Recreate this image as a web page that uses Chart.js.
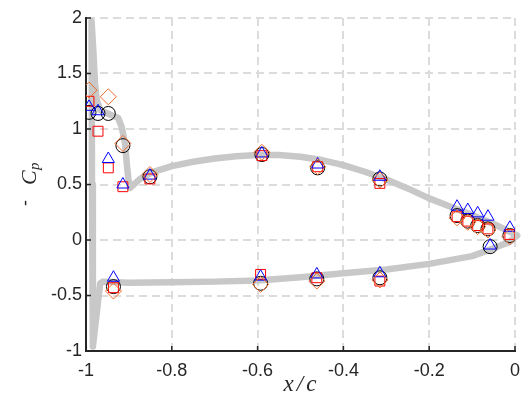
<!DOCTYPE html>
<html>
<head>
<meta charset="utf-8">
<script src="https://cdn.jsdelivr.net/npm/chart.js@4.4.1/dist/chart.umd.min.js"></script>
<style>
  body { margin: 0; background: #fff; }
</style>
</head>
<body>
<canvas id="grafico" width="530" height="404"></canvas>
<script>
// posicoes das tomadas de pressao (x/c)
const tomadasSup = [-0.993, -0.972, -0.948, -0.914, -0.851, -0.590, -0.460, -0.315, -0.135, -0.110, -0.087, -0.063, -0.012];
const tomadasInf = [-0.936, -0.593, -0.462, -0.315, -0.058];

// -Cp medido, cada serie (superficie superior / inferior)
const circuloSup = [1.15, 1.14, 1.14, 0.85, 0.57, 0.77, 0.65, 0.55, 0.22, 0.17, 0.13, 0.10, 0.04];
const circuloInf = [-0.42, -0.39, -0.35, -0.34, -0.06];
const quadradoSup = [1.25, 0.98, 0.65, 0.48, 0.55, 0.76, 0.66, 0.51, 0.21, 0.17, 0.13, 0.10, 0.05];
const quadradoInf = [-0.43, -0.31, -0.34, -0.37, null];
const trianguloSup = [1.20, 1.16, 0.73, 0.50, 0.58, 0.78, 0.68, 0.57, 0.30, 0.27, 0.24, 0.21, 0.11];
const trianguloInf = [-0.34, -0.33, -0.31, -0.30, -0.05];
const losangoSup = [1.35, null, 1.29, 0.87, 0.59, 0.79, 0.66, 0.54, 0.20, 0.16, 0.12, 0.09, 0.03];
const losangoInf = [-0.46, -0.40, -0.37, -0.36, null];

// curva calculada (contorno fechado: bordo de fuga -> extradorso -> bordo de ataque -> intradorso)
const curvaX = [0.005, -0.010, -0.050, -0.100, -0.150, -0.200, -0.250, -0.300, -0.350, -0.400, -0.450, -0.500, -0.550, -0.600, -0.650,
  -0.700, -0.750, -0.800, -0.830, -0.851, -0.874, -0.897,
  -0.901, -0.905, -0.909, -0.917, -0.925, -0.944, -0.967, -0.975, -0.979, -0.983, -0.987,
  -0.986, -0.984, -0.967, -0.960, -0.900, -0.800, -0.700, -0.600, -0.500, -0.400, -0.300, -0.200, -0.100, -0.050, -0.012, 0.005];
const curvaY = [0.04, 0.07, 0.145, 0.225, 0.30, 0.375, 0.465, 0.545, 0.615, 0.675, 0.72, 0.75, 0.765, 0.765, 0.755,
  0.735, 0.705, 0.665, 0.63, 0.60, 0.55, 0.47,
  0.54, 0.69, 0.87, 1.02, 1.10, 1.13, 1.17, 1.26, 1.41, 1.71, 1.97,
  0.5, -0.96, -0.39, -0.375, -0.385, -0.38, -0.375, -0.365, -0.335, -0.30, -0.265, -0.215, -0.145, -0.075, -0.015, 0.04];

const ticksX = [-1, -0.8, -0.6, -0.4, -0.2, 0];
const ticksY = [-1, -0.5, 0, 0.5, 1, 1.5, 2];

function juntar(xs, ys) {
  var pts = [];
  for (var i = 0; i < xs.length; i++) {
    if (ys[i] !== null) pts.push({ x: xs[i], y: ys[i] });
  }
  return pts;
}

function serie(sup, inf, forma, cor, raio, ordem) {
  return {
    label: forma,
    data: juntar(tomadasSup, sup).concat(juntar(tomadasInf, inf)),
    showLine: false,
    pointStyle: forma,
    pointRadius: raio,
    pointHoverRadius: raio,
    pointBorderColor: cor,
    pointBackgroundColor: 'rgba(0,0,0,0)',
    pointBorderWidth: 1,
    order: ordem
  };
}

// ticks para dentro, titulos dos eixos
const extras = {
  id: 'extras',
  afterDraw(chart) {
    const ctx = chart.ctx;
    const area = chart.chartArea;
    const sx = chart.scales.x, sy = chart.scales.y;
    ctx.save();
    ctx.strokeStyle = '#262626';
    ctx.lineWidth = 1.5;
    ctx.beginPath();
    ticksX.forEach(function (v) {
      var px = sx.getPixelForValue(v);
      ctx.moveTo(px, area.bottom);
      ctx.lineTo(px, area.bottom - 5);
    });
    ticksY.forEach(function (v) {
      var py = sy.getPixelForValue(v);
      ctx.moveTo(area.left, py);
      ctx.lineTo(area.left + 5, py);
    });
    ctx.stroke();

    ctx.fillStyle = '#262626';
    ctx.textBaseline = 'alphabetic';
    // x/c
    ctx.font = 'italic 23px "Liberation Serif"';
    ctx.textAlign = 'center';
    ctx.letterSpacing = '3px';
    ctx.fillText('x/c', (area.left + area.right) / 2 + 1, 391);
    ctx.letterSpacing = '0px';

    // - Cp (vertical)
    ctx.translate(36, 206);
    ctx.rotate(-Math.PI / 2);
    ctx.textAlign = 'left';
    ctx.font = '18px "Liberation Sans"';
    ctx.fillText('-', 0, -5);
    ctx.font = 'italic 22px "Liberation Serif"';
    ctx.fillText('C', 21, 0);
    ctx.font = 'italic 15px "Liberation Serif"';
    ctx.fillText('p', 36, 3);
    ctx.restore();
  }
};

const grafico = document.getElementById('grafico');

new Chart(grafico, {
  type: 'scatter',
  data: {
    datasets: [
      serie(circuloSup, circuloInf, 'circle', '#000000', 7, 4),
      serie(quadradoSup, quadradoInf, 'rect', '#ff0000', 7, 3),
      serie(trianguloSup, trianguloInf, 'triangle', '#0000ff', 7, 2),
      serie(losangoSup, losangoInf, 'rectRot', '#ee6a2c', 8, 1),
      {
        label: 'curva',
        data: juntar(curvaX, curvaY),
        showLine: true,
        borderColor: '#c8c8c8',
        borderWidth: 6.5,
        borderJoinStyle: 'round',
        borderCapStyle: 'round',
        tension: 0,
        pointRadius: 0,
        clip: false,
        order: 5
      }
    ]
  },
  options: {
    responsive: false,
    animation: false,
    layout: { padding: { top: 18, right: 15, left: 0, bottom: 0 } },
    plugins: {
      legend: { display: false },
      tooltip: { enabled: false }
    },
    scales: {
      x: {
        type: 'linear',
        min: -1,
        max: 0,
        afterFit: function (s) { s.height = 53; },
        afterBuildTicks: function (s) { s.ticks = ticksX.map(function (v) { return { value: v }; }); },
        ticks: {
          padding: 9,
          color: '#262626',
          font: { family: 'Liberation Sans', size: 18 },
          callback: function (v) { return String(Number(v.toFixed(1))); }
        },
        grid: { color: '#dcdcdc', lineWidth: 2, drawTicks: false },
        border: { display: true, color: '#262626', width: 2, dash: [8, 5] }
      },
      y: {
        type: 'linear',
        min: -1,
        max: 2,
        afterFit: function (s) { s.width = 86; },
        afterBuildTicks: function (s) { s.ticks = ticksY.map(function (v) { return { value: v }; }); },
        ticks: {
          padding: 4,
          color: '#262626',
          font: { family: 'Liberation Sans', size: 18 },
          callback: function (v) { return String(Number(v.toFixed(1))); }
        },
        grid: { color: '#dcdcdc', lineWidth: 2, drawTicks: false },
        border: { display: true, color: '#262626', width: 2, dash: [8, 5] }
      }
    }
  },
  plugins: [extras]
});
</script>
</body>
</html>
